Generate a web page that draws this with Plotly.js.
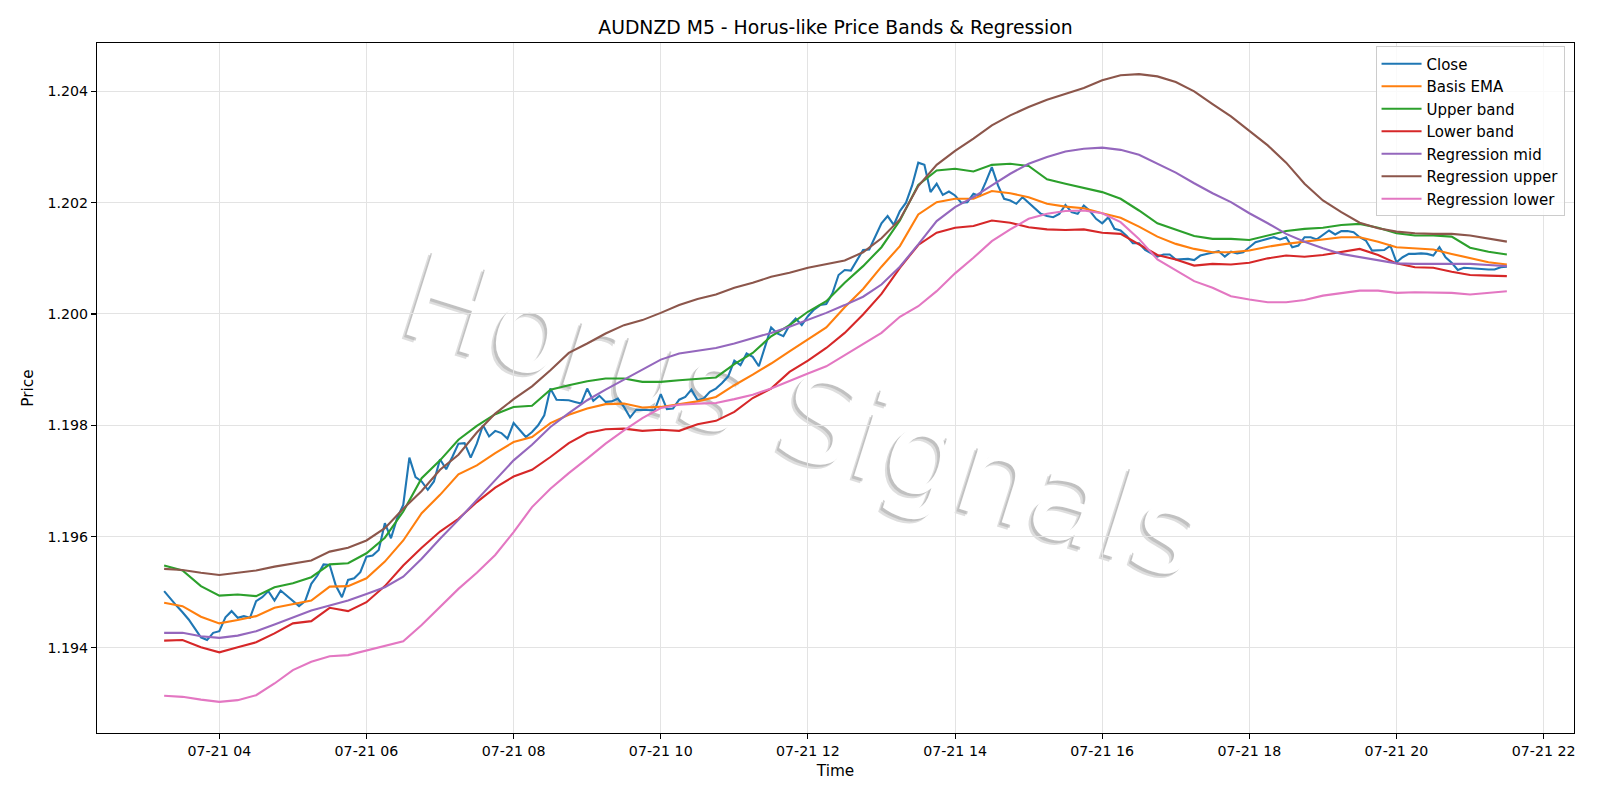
<!DOCTYPE html>
<html>
<head>
<meta charset="utf-8">
<script src="https://cdn.plot.ly/plotly-3.0.1.min.js"></script>
<style>html,body{margin:0;padding:0;background:#fff;}#chart{width:1600px;height:800px;}</style>
</head>
<body>
<div id="chart"></div>
<script>
// ---- data (AUDNZD M5, 2024-07-21, 5-minute bars from 03:15 to 21:30) ----
const startDay = "2024-07-21";
const startMinute = 3 * 60 + 15;
const barMinutes = 5;

const close = [
  1.19502, 1.19488, 1.19476, 1.19464, 1.19451, 1.19435, 1.19419, 1.19414, 1.19427, 1.19430,
  1.19455, 1.19466, 1.19454, 1.19457, 1.19454, 1.19484, 1.19491, 1.19502, 1.19485, 1.19503,
  1.19494, 1.19485, 1.19475, 1.19484, 1.19515, 1.19530, 1.19550, 1.19549, 1.19512, 1.19491,
  1.19522, 1.19525, 1.19536, 1.19564, 1.19566, 1.19576, 1.19624, 1.19597, 1.19633, 1.19657,
  1.19742, 1.19707, 1.19699, 1.19684, 1.19699, 1.19739, 1.19721, 1.19743, 1.19767, 1.19768,
  1.19742, 1.19767, 1.19800, 1.19780, 1.19790, 1.19786, 1.19776, 1.19804, 1.19791, 1.19779,
  1.19788, 1.19800, 1.19818, 1.19866, 1.19846, 1.19846, 1.19845, 1.19842, 1.19839, 1.19866,
  1.19844, 1.19853, 1.19842, 1.19843, 1.19848, 1.19833, 1.19814, 1.19828, 1.19828, 1.19827,
  1.19827, 1.19856, 1.19829, 1.19830, 1.19846, 1.19851, 1.19864, 1.19845, 1.19848, 1.19860,
  1.19866, 1.19876, 1.19888, 1.19916, 1.19908, 1.19929, 1.19923, 1.19906, 1.19941, 1.19976,
  1.19965, 1.19960, 1.19980, 1.19992, 1.19980, 1.19996, 1.20008, 1.20016, 1.20018, 1.20037,
  1.20070, 1.20079, 1.20078, 1.20097, 1.20115, 1.20116, 1.20139, 1.20163, 1.20176, 1.20160,
  1.20185, 1.20200, 1.20231, 1.20272, 1.20268, 1.20219, 1.20234, 1.20214, 1.20220, 1.20213,
  1.20200, 1.20201, 1.20216, 1.20212, 1.20237, 1.20264, 1.20231, 1.20207, 1.20204, 1.20198,
  1.20210, 1.20200, 1.20190, 1.20180, 1.20176, 1.20174, 1.20180, 1.20196, 1.20183, 1.20180,
  1.20195, 1.20185, 1.20171, 1.20163, 1.20174, 1.20153, 1.20150, 1.20140, 1.20127, 1.20127,
  1.20115, 1.20109, 1.20103, 1.20107, 1.20107, 1.20098, 1.20099, 1.20099, 1.20097, 1.20105,
  1.20108, 1.20110, 1.20113, 1.20103, 1.20112, 1.20109, 1.20111, 1.20120, 1.20129, 1.20132,
  1.20135, 1.20138, 1.20134, 1.20138, 1.20120, 1.20123, 1.20138, 1.20138, 1.20134, 1.20142,
  1.20150, 1.20143, 1.20149, 1.20149, 1.20147, 1.20138, 1.20132, 1.20114, 1.20114, 1.20115,
  1.20123, 1.20093, 1.20102, 1.20108, 1.20108, 1.20109, 1.20108, 1.20105, 1.20120, 1.20102,
  1.20092, 1.20079, 1.20083, 1.20082, 1.20082, 1.20081, 1.20080, 1.20080, 1.20084, 1.20085
];

// smooth series, read every third bar (15 minutes)
const smoothEvery = 3;

const basisEma = [
  1.19481, 1.19475, 1.19456, 1.19444, 1.19450, 1.19457, 1.19472, 1.19479, 1.19485, 1.19510, 1.19511,
  1.19525, 1.19555, 1.19593, 1.19642, 1.19675, 1.19712, 1.19728, 1.19750, 1.19770, 1.19779,
  1.19804, 1.19819, 1.19830, 1.19838, 1.19839, 1.19832, 1.19833, 1.19838, 1.19843, 1.19851,
  1.19872, 1.19891, 1.19911, 1.19933, 1.19954, 1.19976, 1.20012, 1.20045, 1.20085, 1.20122,
  1.20179, 1.20201, 1.20207, 1.20207, 1.20221, 1.20217, 1.20210, 1.20198, 1.20193, 1.20190,
  1.20181, 1.20173, 1.20157, 1.20139, 1.20126, 1.20117, 1.20111, 1.20111, 1.20114, 1.20121,
  1.20126, 1.20130, 1.20133, 1.20138, 1.20138, 1.20130, 1.20120, 1.20118, 1.20116, 1.20108,
  1.20100, 1.20093, 1.20089
];

const upperBand = [
  1.19548, 1.19539, 1.19511, 1.19494, 1.19496, 1.19493, 1.19509, 1.19516, 1.19527, 1.19550, 1.19552,
  1.19570, 1.19598, 1.19645, 1.19705, 1.19737, 1.19774, 1.19799, 1.19820, 1.19833, 1.19835,
  1.19864, 1.19872, 1.19879, 1.19884, 1.19884, 1.19878, 1.19878, 1.19881, 1.19884, 1.19886,
  1.19910, 1.19930, 1.19960, 1.19980, 1.20004, 1.20023, 1.20056, 1.20086, 1.20120, 1.20168,
  1.20232, 1.20258, 1.20261, 1.20256, 1.20268, 1.20270, 1.20266, 1.20242, 1.20234, 1.20227,
  1.20219, 1.20207, 1.20186, 1.20163, 1.20152, 1.20140, 1.20135, 1.20135, 1.20133, 1.20141,
  1.20149, 1.20153, 1.20155, 1.20160, 1.20162, 1.20155, 1.20145, 1.20141, 1.20141, 1.20139,
  1.20119, 1.20112, 1.20107
];

const lowerBand = [
  1.19413, 1.19414, 1.19401, 1.19392, 1.19401, 1.19410, 1.19426, 1.19444, 1.19448, 1.19472, 1.19466,
  1.19482, 1.19511, 1.19548, 1.19580, 1.19609, 1.19632, 1.19662, 1.19688, 1.19708, 1.19720,
  1.19743, 1.19768, 1.19786, 1.19793, 1.19794, 1.19790, 1.19792, 1.19790, 1.19802, 1.19808,
  1.19824, 1.19849, 1.19866, 1.19896, 1.19916, 1.19939, 1.19966, 1.19999, 1.20036, 1.20083,
  1.20124, 1.20146, 1.20155, 1.20158, 1.20168, 1.20164, 1.20156, 1.20152, 1.20151, 1.20152,
  1.20146, 1.20144, 1.20125, 1.20106, 1.20098, 1.20087, 1.20090, 1.20089, 1.20092, 1.20100,
  1.20105, 1.20103, 1.20106, 1.20112, 1.20117, 1.20106, 1.20091, 1.20084, 1.20083, 1.20076,
  1.20070, 1.20069, 1.20068
];

const regressionMid = [
  1.19427, 1.19427, 1.19421, 1.19418, 1.19422, 1.19430, 1.19442, 1.19454, 1.19467, 1.19476, 1.19485,
  1.19497, 1.19509, 1.19528, 1.19560, 1.19596, 1.19630, 1.19666, 1.19702, 1.19737, 1.19765,
  1.19797, 1.19822, 1.19845, 1.19864, 1.19882, 1.19899, 1.19918, 1.19929, 1.19934, 1.19939,
  1.19947, 1.19956, 1.19966, 1.19977, 1.19989, 1.20002, 1.20016, 1.20031, 1.20053, 1.20085,
  1.20125, 1.20167, 1.20192, 1.20210, 1.20231, 1.20252, 1.20270, 1.20282, 1.20292, 1.20297,
  1.20299, 1.20295, 1.20286, 1.20270, 1.20254, 1.20235, 1.20217, 1.20201, 1.20181, 1.20163,
  1.20144, 1.20130, 1.20118, 1.20108, 1.20102, 1.20096, 1.20091, 1.20090, 1.20090, 1.20091,
  1.20090, 1.20088, 1.20086
];

const regressionUpper = [
  1.19542, 1.19540, 1.19535, 1.19531, 1.19535, 1.19539, 1.19546, 1.19551, 1.19557, 1.19573, 1.19580,
  1.19593, 1.19615, 1.19650, 1.19682, 1.19720, 1.19747, 1.19787, 1.19821, 1.19847, 1.19870,
  1.19899, 1.19930, 1.19947, 1.19965, 1.19980, 1.19989, 1.20002, 1.20016, 1.20027, 1.20035,
  1.20047, 1.20056, 1.20067, 1.20074, 1.20083, 1.20090, 1.20096, 1.20111, 1.20136, 1.20170,
  1.20230, 1.20268, 1.20293, 1.20315, 1.20339, 1.20357, 1.20372, 1.20385, 1.20396, 1.20406,
  1.20420, 1.20429, 1.20431, 1.20427, 1.20417, 1.20400, 1.20377, 1.20355, 1.20329, 1.20303,
  1.20272, 1.20234, 1.20204, 1.20183, 1.20164, 1.20154, 1.20148, 1.20145, 1.20144, 1.20144,
  1.20141, 1.20135, 1.20130
];

const regressionLower = [
  1.19314, 1.19312, 1.19307, 1.19303, 1.19306, 1.19315, 1.19336, 1.19360, 1.19375, 1.19385, 1.19387,
  1.19395, 1.19403, 1.19412, 1.19441, 1.19473, 1.19506, 1.19535, 1.19567, 1.19608, 1.19653,
  1.19686, 1.19714, 1.19740, 1.19767, 1.19791, 1.19813, 1.19831, 1.19837, 1.19839, 1.19840,
  1.19847, 1.19855, 1.19866, 1.19880, 1.19893, 1.19906, 1.19926, 1.19946, 1.19966, 1.19995,
  1.20014, 1.20041, 1.20073, 1.20101, 1.20131, 1.20152, 1.20171, 1.20180, 1.20185, 1.20186,
  1.20181, 1.20165, 1.20135, 1.20098, 1.20078, 1.20059, 1.20047, 1.20032, 1.20026, 1.20021,
  1.20021, 1.20025, 1.20033, 1.20037, 1.20042, 1.20042, 1.20038, 1.20039, 1.20039, 1.20038,
  1.20035, 1.20038, 1.20041
];

const seriesNames = ["Close", "Basis EMA", "Upper band", "Lower band", "Regression mid", "Regression upper", "Regression lower"];
const yTickVals = [1.194, 1.196, 1.198, 1.200, 1.202, 1.204];
const titleText = "AUDNZD M5 - Horus-like Price Bands & Regression";
const watermarkText = "Horus Signals";

// ---- build time axis ----
function pad(n) { return (n < 10 ? "0" : "") + n; }
const times = close.map((_, i) => {
  const m = startMinute + i * barMinutes;
  return startDay + " " + pad(Math.floor(m / 60)) + ":" + pad(m % 60);
});
const smoothTimes = times.filter((_, i) => i % smoothEvery === 0);

const colors = ["#1f77b4", "#ff7f0e", "#2ca02c", "#d62728", "#9467bd", "#8c564b", "#e377c2"];
const ys = [close, basisEma, upperBand, lowerBand, regressionMid, regressionUpper, regressionLower];

const traces = ys.map((y, k) => ({
  type: "scatter",
  mode: "lines",
  name: seriesNames[k],
  x: k === 0 ? times : smoothTimes,
  y: y,
  line: { color: colors[k], width: 2.1 },
  hoverinfo: "skip"
}));

const FONT = "DejaVu Sans, Arial, sans-serif";
const cx = 0.4795, cy = 0.4720;
const wmBox = (dx, dy) => ({ x0: cx + dx - 0.01, x1: cx + dx + 0.01, y0: cy + dy - 0.01, y1: cy + dy + 0.01 });
const wmFont = 121, wmAngle = 17.5;
const wmLayer = (dx, dy, color) => Object.assign({
  type: "rect", xref: "paper", yref: "paper", layer: "between",
  line: { width: 0 }, fillcolor: "rgba(0,0,0,0)",
  label: { text: watermarkText, textposition: "middle center", textangle: wmAngle,
    font: { family: FONT, size: wmFont, color: color } }
}, wmBox(dx, dy));

const layout = {
  width: 1600, height: 800,
  margin: { l: 97, r: 26, t: 43, b: 67, pad: 0 },
  paper_bgcolor: "#ffffff",
  plot_bgcolor: "#ffffff",
  font: { family: FONT, size: 14, color: "#000" },
  title: {
    text: titleText,
    font: { family: FONT, size: 18.8, color: "#000" },
    x: 0.5, xref: "paper", xanchor: "center",
    y: 1 - 27 / 800, yref: "container", yanchor: "middle"
  },
  showlegend: true,
  legend: {
    x: 0.9936, y: 0.995, xanchor: "right", yanchor: "top",
    bgcolor: "rgba(255,255,255,0.8)", bordercolor: "#cccccc", borderwidth: 1,
    font: { family: FONT, size: 15, color: "#000" },
    itemwidth: 40
  },
  xaxis: {
    type: "date",
    range: [startDay + " 02:20:15", startDay + " 22:24:45"],
    tick0: startDay + " 00:00", dtick: 2 * 3600 * 1000,
    tickformat: "%m-%d %H",
    showgrid: true, gridcolor: "#e3e3e3", gridwidth: 1,
    showline: true, linecolor: "#000", linewidth: 1.1, mirror: true,
    ticks: "outside", ticklen: 5, tickwidth: 1.1, tickcolor: "#000",
    tickfont: { family: FONT, size: 14.2, color: "#000" },
    zeroline: false, automargin: false,
    title: { text: "Time", font: { family: FONT, size: 15.3, color: "#000" }, standoff: 7 }
  },
  yaxis: {
    range: [1.19247, 1.20487],
    tickvals: yTickVals,
    tickformat: ".3f",
    showgrid: true, gridcolor: "#e3e3e3", gridwidth: 1,
    showline: true, linecolor: "#000", linewidth: 1.1, mirror: true,
    ticks: "outside", ticklen: 5, tickwidth: 1.1, tickcolor: "#000",
    tickfont: { family: FONT, size: 14.2, color: "#000" },
    zeroline: false, automargin: false,
    title: { text: "Price", font: { family: FONT, size: 15.3, color: "#000" }, standoff: 10 }
  },
  shapes: [
    wmLayer(-0.0032, -0.0062, "rgba(190,190,190,0.5)"),
    wmLayer(-0.0018, -0.0035, "rgba(170,170,170,0.55)"),
    wmLayer(0, 0, "rgba(255,255,255,1)")
  ]
};

Plotly.newPlot("chart", traces, layout, { displayModeBar: false, staticPlot: true });
</script>
</body>
</html>
